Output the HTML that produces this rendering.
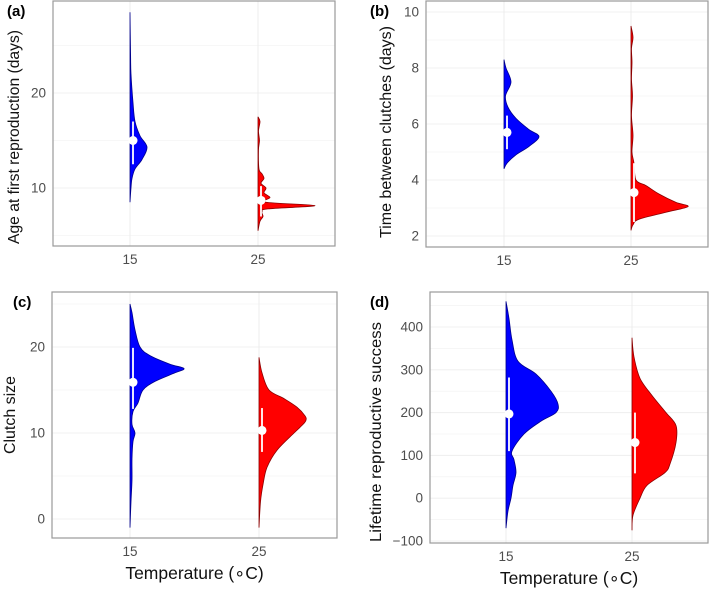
<!DOCTYPE html>
<html><head><meta charset="utf-8"><style>
body{margin:0;background:#fff;}
svg{display:block;font-family:"Liberation Sans",sans-serif;}
</style></head><body>
<svg id="c" width="709" height="594" viewBox="0 0 709 594"></svg>
<script>
// ---- data ----
const categories = ["15","25"];
// panel a: age at first reproduction
const aBlue = [[28.5,0],[24,0.6],[22,1],[19,3],[17,5],[15.5,10],[14.3,17],[13,12],[12,5],[11,2],[10,1],[8.5,0]];
const aRed = [[17.5,0],[17,2],[16,0.5],[15,1.5],[14,0.5],[12,1],[11.5,4],[11,6],[10.5,3],[10,8],[9.5,6],[9,12],[8.5,8],[8.15,57],[7.8,10],[7.5,4],[7,5],[6.5,2],[5.5,0]];
const aStats = [[15,12.5,17],[8.7,7,10.2]];
// panel b: time between clutches
const bBlue = [[8.3,0],[8,2],[7.5,7],[7,1.5],[6.6,4],[6.2,12],[5.8,25],[5.55,35],[5.2,25],[4.9,12],[4.6,3],[4.4,0]];
const bRed = [[9.5,0],[9.1,2],[8.7,0.5],[8.2,1],[7.6,0.5],[7,1.5],[6.3,0.5],[5.6,2],[5,1],[4.6,3],[4,5],[3.8,15],[3.5,28],[3.2,45],[3.05,57],[2.85,35],[2.6,8],[2.4,2],[2.2,0]];
const bStats = [[5.7,5.1,6.3],[3.55,2.5,4.6]];
// panel c: clutch size
const cBlue = [[25,0],[24,2],[22,5],[20,10],[19,20],[18,40],[17.5,54],[17,45],[16,25],[15,13],[13.5,8],[12.5,3],[11,2],[10,5],[9,3],[7,2],[4.5,2],[2,1],[-1,0]];
const cRed = [[18.8,0],[17,3],[15,10],[14,25],[13,38],[12,46],[11.5,47],[11,44],[10,35],[8,18],[6,8],[4,4],[2,1.5],[-1,0]];
const cStats = [[15.9,12.8,19.9],[10.3,7.8,12.9]];
// panel d: lifetime reproductive success
const dBlue = [[460,0],[420,3],[370,6],[320,12],[290,30],[250,45],[220,52],[200,50],[180,35],[150,18],[110,6],[90,8],[60,10],[30,7],[0,5],[-30,2],[-70,0]];
const dRed = [[375,0],[330,2],[280,8],[240,20],[200,34],[170,44],[130,44],[80,38],[60,33],[30,15],[0,8],[-40,1],[-75,0]];
const dStats = [[197,110,282],[130,58,200]];
const aTicks=[10,20], bTicks=[2,4,6,8,10], cTicks=[0,10,20], dTicks=[-100,0,100,200,300,400];

const NS="http://www.w3.org/2000/svg";
const svg=document.getElementById('c');
function mk(tag,attrs,parent){const e=document.createElementNS(NS,tag);for(const k in attrs)e.setAttribute(k,attrs[k]);(parent||svg).appendChild(e);return e;}

function smooth(pts){let d="M"+pts[0][0]+","+pts[0][1];
 for(let i=0;i<pts.length-1;i++){const p0=pts[i-1]||pts[i],p1=pts[i],p2=pts[i+1],p3=pts[i+2]||p2;
  const c1=[p1[0]+(p2[0]-p0[0])/6,p1[1]+(p2[1]-p0[1])/6],c2=[p2[0]-(p3[0]-p1[0])/6,p2[1]-(p3[1]-p1[1])/6];
  d+=" C"+c1[0]+","+c1[1]+" "+c2[0]+","+c2[1]+" "+p2[0]+","+p2[1];}
 return d;}

function panel(cfg){
 const g=mk('g',{});
 
 
 const {x0,x1,yTop,yBot,v1,p1,v2,p2}=cfg;
 const sy=v=>p1+(v-v1)*(p2-p1)/(v2-v1);
 const sx=i=>cfg.cx[i];
 const step=cfg.ticks[1]-cfg.ticks[0];
 for(let t=cfg.ticks[0]-step;t<=cfg.ticks[cfg.ticks.length-1]+step;t+=step/2){
  const y=sy(t); if(y<yTop||y>yBot)continue;
  mk('line',{x1:x0,x2:x1,y1:y,y2:y,stroke:'#f0f0f0','stroke-width':cfg.ticks.includes(t)?1.1:0.6},g);
 }
 for(let i=0;i<2;i++) mk('line',{x1:sx(i),x2:sx(i),y1:yTop,y2:yBot,stroke:'#ececec','stroke-width':1},g);
 const box=mk('rect',{x:x0,y:yTop,width:x1-x0,height:yBot-yTop,fill:'none',stroke:'#9a9a9a','stroke-width':1.2},g);
 
 
 [[cfg.blue,'#0000ff','#00008b'],[cfg.red,'#ff0000','#8b0000']].forEach((s,i)=>{
  const pts=s[0].map(p=>[sx(i)+p[1],sy(p[0])]);
  const d=smooth(pts)+" L"+sx(i)+","+sy(s[0][s[0].length-1][0])+" L"+sx(i)+","+sy(s[0][0][0])+" Z";
  const v=mk('path',{d:d,fill:s[1],stroke:s[2],'stroke-width':0.8},g);
  
  
  const st=cfg.stats[i], px=sx(i)+3;
  const l=mk('line',{x1:px,x2:px,y1:sy(st[1]),y2:sy(st[2]),stroke:'#fff','stroke-width':1.8},g);
  
  
  const c=mk('circle',{cx:px,cy:sy(st[0]),r:4.5,fill:'#fff'},g);
  
  
 });
 cfg.ticks.forEach(t=>{const tx=mk('text',{x:x0-7,y:sy(t)+4.5,'text-anchor':'end','font-size':13.5,fill:'#4d4d4d'},g);tx.textContent=(t<0?'\u2212'+(-t):t);
  });
 categories.forEach((c,i)=>{const tx=mk('text',{x:sx(i),y:yBot+18,'text-anchor':'middle','font-size':13.5,fill:'#4d4d4d'},g);tx.textContent=c;
  });
 const yt=mk('text',{transform:`translate(${cfg.ytX},${cfg.ytY}) rotate(-90)`,'text-anchor':'middle','font-size':15.5,fill:'#111',textLength:cfg.ytL,lengthAdjust:'spacingAndGlyphs'},g);
 yt.textContent=cfg.ytitle;
 const lb=mk('text',{x:cfg.lx,y:yTop+15,'font-size':15,'font-weight':'bold',fill:'#000'},g);
 lb.textContent='('+cfg.id+')';
 if(cfg.xt){const xt=mk('text',{x:(x0+x1)/2,y:yBot+41,'text-anchor':'middle','font-size':17.5,fill:'#111'},g);
  xt.textContent='Temperature (\u2218C)';}
}
panel({id:'a',x0:53,x1:335,yTop:1,yBot:246,v1:20,p1:93,v2:10,p2:188,cx:[130,258],ticks:aTicks,blue:aBlue,red:aRed,stats:aStats,ytitle:'Age at first reproduction (days)',ytX:19,ytY:137,ytL:214,lx:7});
panel({id:'b',x0:426,x1:708,yTop:1,yBot:247,v1:10,p1:12,v2:2,p2:236,cx:[504,631],ticks:bTicks,blue:bBlue,red:bRed,stats:bStats,ytitle:'Time between clutches (days)',ytX:391,ytY:132,ytL:212,lx:370});
panel({id:'c',x0:52,x1:337,yTop:292,yBot:538,v1:20,p1:347,v2:0,p2:519,cx:[130,259],ticks:cTicks,blue:cBlue,red:cRed,stats:cStats,ytitle:'Clutch size',ytX:15,ytY:415,ytL:78,lx:13,xt:true});
panel({id:'d',x0:430,x1:708,yTop:292,yBot:543,v1:400,p1:327,v2:-100,p2:541,cx:[506,632],ticks:dTicks,blue:dBlue,red:dRed,stats:dStats,ytitle:'Lifetime reproductive success',ytX:381,ytY:432,ytL:220,lx:370,xt:true});
</script>
</body></html>
